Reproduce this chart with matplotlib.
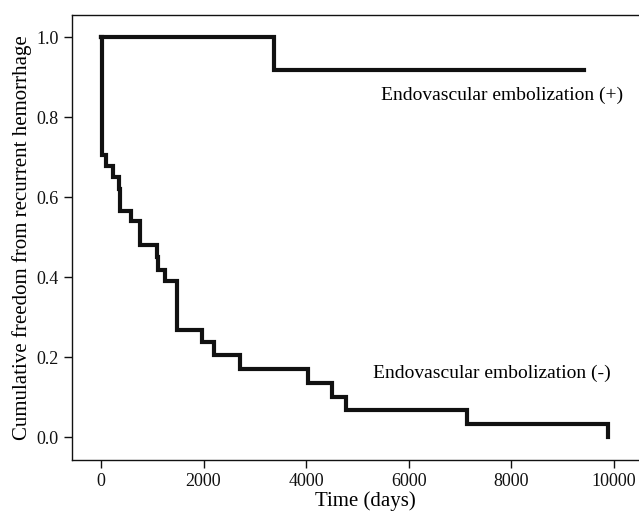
import matplotlib
matplotlib.use("Agg")
import matplotlib.pyplot as plt

# Kaplan-Meier style step data
# embolization (+): time (days) where each step starts, and the value after it
days_pos = [0, 3365, 9414]
surv_pos = [1.0, 0.917, 0.917]

# embolization (-)
days_neg = [0, 14, 25, 92, 240, 346, 377, 590, 762, 1088, 1119, 1250, 1478,
            1967, 2207, 2715, 4030, 4506, 4785, 7143, 9883]
surv_neg = [1.0, 0.86, 0.705, 0.677, 0.65, 0.62, 0.565, 0.54, 0.48, 0.45, 0.418,
            0.39, 0.268, 0.238, 0.204, 0.17, 0.135, 0.10, 0.068, 0.033, 0.0]

x_ticks = [0, 2000, 4000, 6000, 8000, 10000]
y_ticks = [0.0, 0.2, 0.4, 0.6, 0.8, 1.0]

plt.rcParams['font.family'] = ['Liberation Serif', 'DejaVu Serif']

fig = plt.figure(figsize=(6.39, 5.15), dpi=100)
ax = fig.add_axes([72 / 639, 55 / 515, 586 / 639, 445 / 515])

ax.plot(days_pos, surv_pos, drawstyle='steps-post', color='#111111', lw=3.0,
        solid_joinstyle='miter')
ax.plot(days_neg + [days_neg[-1]], surv_neg + [surv_neg[-1]], drawstyle='steps-post',
        color='#111111', lw=3.0, solid_joinstyle='miter')

ax.text(5450, 0.855, 'Endovascular embolization (+)', fontsize=14, va='center', ha='left')
ax.text(5310, 0.16, 'Endovascular embolization (-)', fontsize=14, va='center', ha='left')

ax.set_xlim(-565, 10860)
ax.set_ylim(-0.0575, 1.055)
ax.set_xticks(x_ticks)
ax.set_yticks(y_ticks)
ax.set_yticklabels([f'{v:.1f}' for v in y_ticks])
ax.tick_params(direction='out', length=6, width=1, labelsize=13, colors='#111111')

for side in ['left', 'bottom', 'top', 'right']:
    ax.spines[side].set_linewidth(1.0)
    ax.spines[side].set_color('#111111')

ax.set_xlabel('Time (days)', fontsize=15, labelpad=1)
ax.set_ylabel('Cumulative freedom from recurrent hemorrhage', fontsize=15, labelpad=3)

fig.savefig('out.png', dpi=100)
